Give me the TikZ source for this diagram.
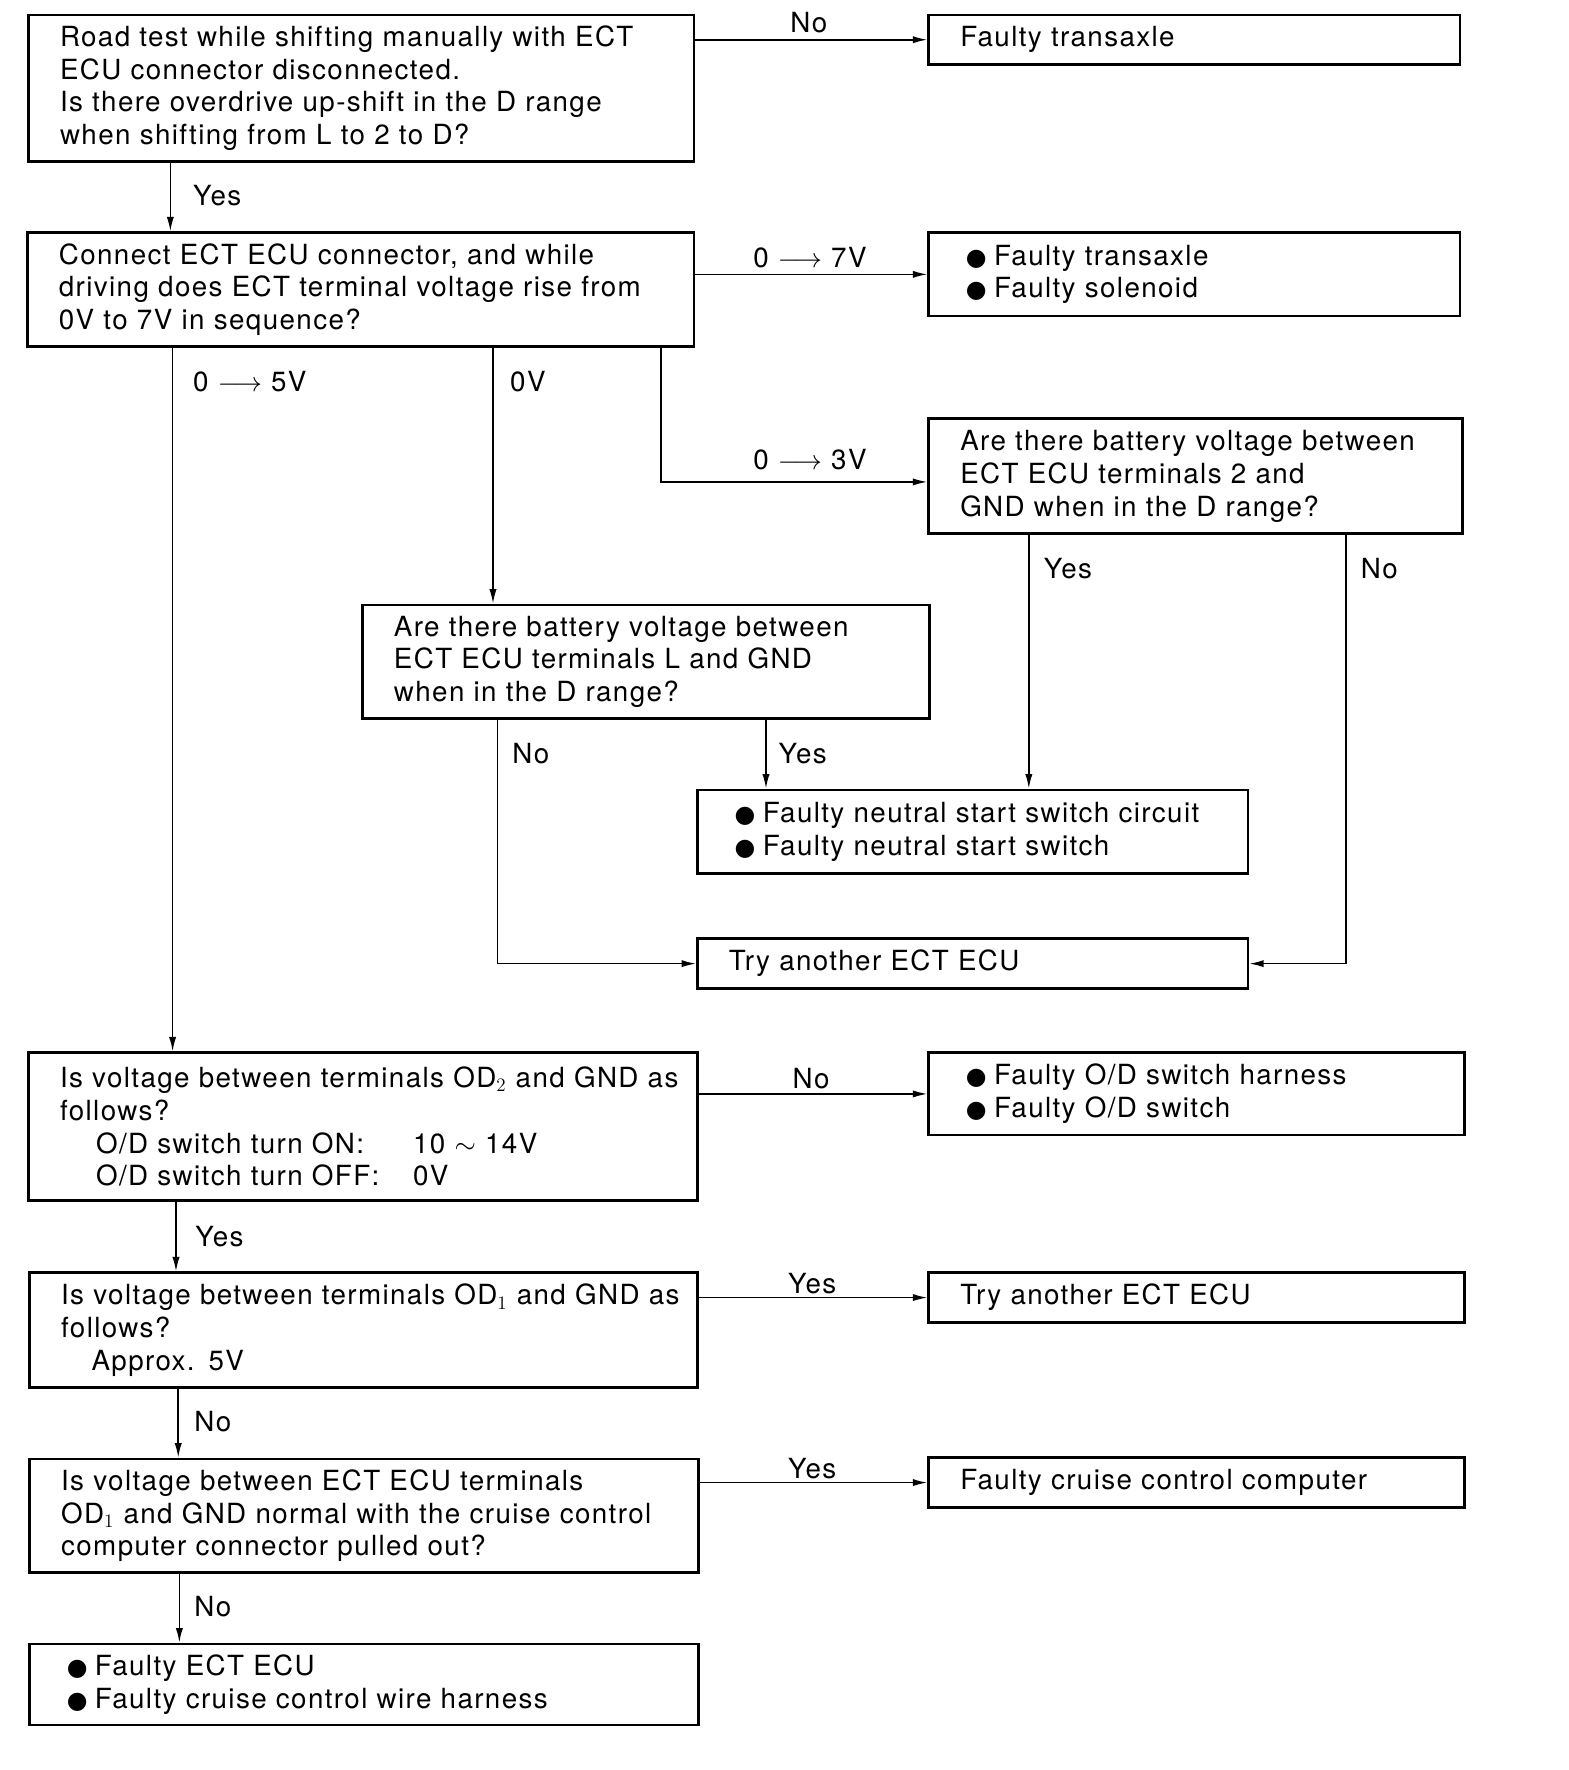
\documentclass[tikz,border=0pt]{standalone}
\usepackage{fontspec}
\setmainfont{TeX Gyre Heros}[LetterSpace=5.0]
\newfontfamily\symfont{DejaVu Sans}
\usetikzlibrary{arrows.meta}
\newcommand{\bul}{\hspace*{1.25mm}\makebox[6.25mm][l]{\symfont\fontsize{15}{15}\selectfont ●}}
\begin{document}
\begin{tikzpicture}[x=0.25mm,y=-0.25mm,
  every node/.style={font=\fontsize{17.5}{20.6}\selectfont},
  box/.style 2 args={draw, line width=0.6mm, anchor=north west, text width=#1,
    minimum height=#2, align=left, inner xsep=7mm, inner ysep=0pt},
  arr/.style={-{Latex[length=3.2mm,width=1.6mm]}, line width=0.35mm},
  lbl/.style={inner sep=0pt, anchor=west},
  lblc/.style={inner sep=0pt, anchor=center}]
\useasboundingbox (0,0) rectangle (1390,1569);

% boxes
\node[box={133.5mm}{32.5mm}] (A) at (24,12) {Road test while shifting manually with ECT\\ECU connector disconnected.\\Is there overdrive up-shift in the D range\\when shifting from L to 2 to D?};
\node[box={103.75mm}{11mm}] (B) at (822,12) {Faulty transaxle};
\node[box={133.75mm}{25.25mm}] (C) at (23,205) {Connect ECT ECU connector, and while\\driving does ECT terminal voltage rise from\\0V to 7V in sequence?};
\node[box={103.75mm}{18.5mm}] (D) at (822,205) {\bul Faulty transaxle\\\bul Faulty solenoid};
\node[box={104.25mm}{25.5mm}] (E) at (822,370) {Are there battery voltage between\\ECT ECU terminals 2 and\\GND when in the D range?};
\node[box={111.75mm}{25.25mm}] (F) at (320,535) {Are there battery voltage between\\ECT ECU terminals L and GND\\when in the D range?};
\node[box={108mm}{18.5mm}] (I) at (617,699) {\bul Faulty neutral start switch circuit\\\bul Faulty neutral start switch};
\node[box={108mm}{11mm}] (G) at (617,831) {Try another ECT ECU};
\node[box={134.25mm}{32.75mm}] (H) at (24,932) {\mbox{Is voltage between terminals OD$_2$ and GND as}\\follows?\\\hspace*{8mm}\makebox[70.25mm][l]{O/D switch turn ON:}10 $\sim$ 14V\\\hspace*{8mm}\makebox[70.25mm][l]{O/D switch turn OFF:}0V};
\node[box={104.75mm}{18.25mm}] (J) at (822,932) {\bul Faulty O/D switch harness\\\bul Faulty O/D switch};
\node[box={134mm}{25.5mm}] (K) at (25,1127) {\mbox{Is voltage between terminals OD$_1$ and GND as}\\follows?\\\hspace*{6.75mm}Approx. 5V};
\node[box={104.75mm}{11mm}] (L) at (822,1127) {Try another ECT ECU};
\node[box={134.25mm}{25.25mm}] (M) at (25,1292) {Is voltage between ECT ECU terminals\\OD$_1$ and GND normal with the cruise control\\computer connector pulled out?};
\node[box={104.75mm}{11mm}] (N) at (822,1291) {Faulty cruise control computer};
\node[box={134.25mm}{18mm}] (O) at (25,1456) {\bul Faulty ECT ECU\\\bul Faulty cruise control wire harness};

% branch x positions
\coordinate (xa) at (151,0);
\coordinate (x5) at (153,0);
\coordinate (x0) at (437,0);
\coordinate (x3) at (586,0);
\coordinate (xfn) at (441,0);
\coordinate (xfy) at (679,0);
\coordinate (xey) at (912,0);
\coordinate (xen) at (1193,0);
\coordinate (xh) at (156,0);
\coordinate (xk) at (158,0);
\coordinate (xm) at (159,0);

% connectors
\draw[arr] (A.east |- B.west) -- (B.west);
\draw[arr] (A.south -| xa) -- (C.north -| xa);
\draw[arr] (C.east |- D.west) -- (D.west);
\draw[arr] (C.south -| x3) |- ([yshift=-1.25mm]E.west);
\draw[arr] (C.south -| x0) -- (F.north -| x0);
\draw[arr] (C.south -| x5) -- (H.north -| x5);
\draw[arr] (F.south -| xfn) |- (G.west);
\draw[arr] (F.south -| xfy) -- (I.north -| xfy);
\draw[arr] (E.south -| xey) -- (I.north -| xey);
\draw[arr] (E.south -| xen) |- (G.east);
\draw[arr] (H.east |- J.west) -- (J.west);
\draw[arr] (H.south -| xh) -- (K.north -| xh);
\draw[arr] (K.east |- L.west) -- (L.west);
\draw[arr] (K.south -| xk) -- (M.north -| xk);
\draw[arr] (M.east |- N.west) -- (N.west);
\draw[arr] (M.south -| xm) -- (O.north -| xm);

% labels
\node[lblc] (l1) at (717,20) {No};
\node[lbl] (l2) at (171,173) {Yes};
\node[lblc] (l3) at (718,228) {0 $\longrightarrow$ 7V};
\node[lbl] (l4) at (171,338) {0 $\longrightarrow$ 5V};
\node[lbl] (l5) at (452,338) {0V};
\node[lblc] (l6) at (718,407) {0 $\longrightarrow$ 3V};
\node[lbl] (l7) at (925,504) {Yes};
\node[lbl] (l8) at (1206,504) {No};
\node[lbl] (l9) at (454,668) {No};
\node[lbl] (l10) at (690,668) {Yes};
\node[lblc] (l11) at (719,956) {No};
\node[lbl] (l12) at (173,1096) {Yes};
\node[lblc] (l13) at (720,1138) {Yes};
\node[lbl] (l14) at (172,1260) {No};
\node[lblc] (l15) at (720,1302) {Yes};
\node[lbl] (l16) at (172,1424) {No};
\end{tikzpicture}
\end{document}
